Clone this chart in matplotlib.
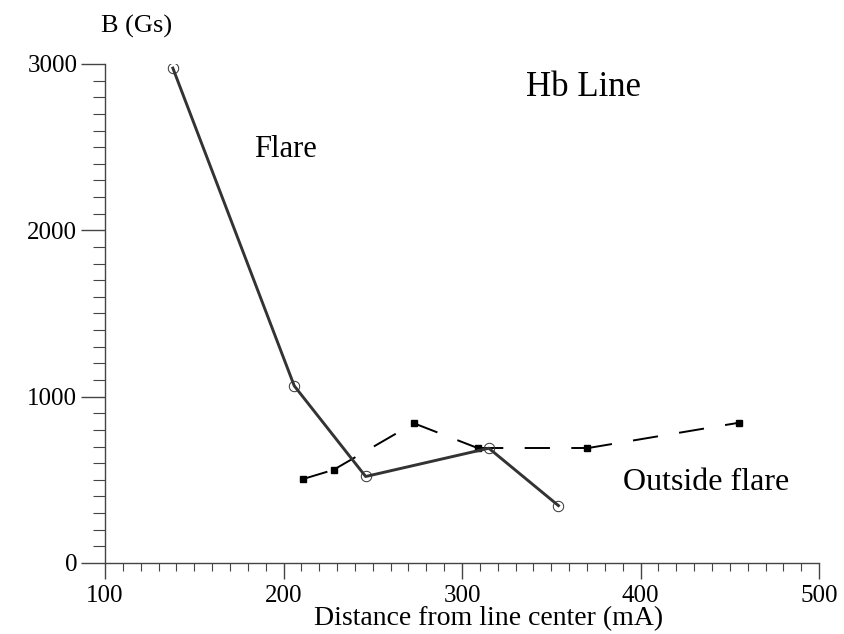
import matplotlib
matplotlib.use("Agg")
import matplotlib.pyplot as plt
from matplotlib.ticker import MultipleLocator

plt.rcParams['font.family'] = ['Liberation Serif', 'DejaVu Serif']

# Flare (open circles, solid line)
flare_x = [138, 206, 246, 315, 354]
flare_y = [2975, 1065, 520, 690, 345]

# Outside flare (filled squares, dashed line)
out_x = [211, 228, 273, 309, 370, 455]
out_y = [505, 560, 840, 690, 690, 843]


def main():
    fig = plt.figure(figsize=(8.45, 6.34), dpi=100)
    ax = fig.add_axes([0.1243, 0.1120, 0.8450, 0.7871])

    ax.plot(flare_x, flare_y, color='#333333', lw=2.1, marker='o', ms=7.5,
            mfc='none', mec='#333333', mew=0.7, zorder=3)

    # dash pattern restarts at every point, so draw segment by segment
    for i in range(len(out_x) - 1):
        ax.plot(out_x[i:i + 2], out_y[i:i + 2], color='black', lw=1.4,
                dashes=(13, 11), zorder=2)
    ax.plot(out_x, out_y, ls='none', marker='s', ms=4.5,
            mfc='black', mec='black', zorder=2)

    ax.set_xlim(100, 500)
    ax.set_ylim(0, 3000)
    ax.xaxis.set_major_locator(MultipleLocator(100))
    ax.xaxis.set_minor_locator(MultipleLocator(10))
    ax.yaxis.set_major_locator(MultipleLocator(1000))
    ax.yaxis.set_minor_locator(MultipleLocator(100))

    for s in ['top', 'right']:
        ax.spines[s].set_visible(False)
    for s in ['left', 'bottom']:
        ax.spines[s].set_linewidth(1.0)
        ax.spines[s].set_color('#444444')

    ax.tick_params(axis='x', which='major', direction='out', length=11.5,
                   width=1.0, colors='#444444', labelsize=18,
                   labelcolor='black', pad=4)
    ax.tick_params(axis='x', which='minor', direction='out', length=6,
                   width=0.8, colors='#444444')
    ax.tick_params(axis='y', which='major', direction='out', length=17,
                   width=1.0, colors='#444444', labelsize=18,
                   labelcolor='black', pad=3)
    ax.tick_params(axis='y', which='minor', direction='out', length=8.5,
                   width=0.8, colors='#444444')

    fig.text(0.578, 0.024, 'Distance from line center (mA)', fontsize=20,
             ha='center', va='center')
    fig.text(0.162, 0.959, 'B (Gs)', fontsize=19, ha='center', va='center')

    ax.text(368, 2856, 'Hb Line', fontsize=25, ha='center', va='center')
    ax.text(201, 2483, 'Flare', fontsize=22, ha='center', va='center')
    ax.text(437, 481, 'Outside flare', fontsize=23, ha='center', va='center')

    fig.savefig('out.png', dpi=100)


if __name__ == "__main__":
    main()
